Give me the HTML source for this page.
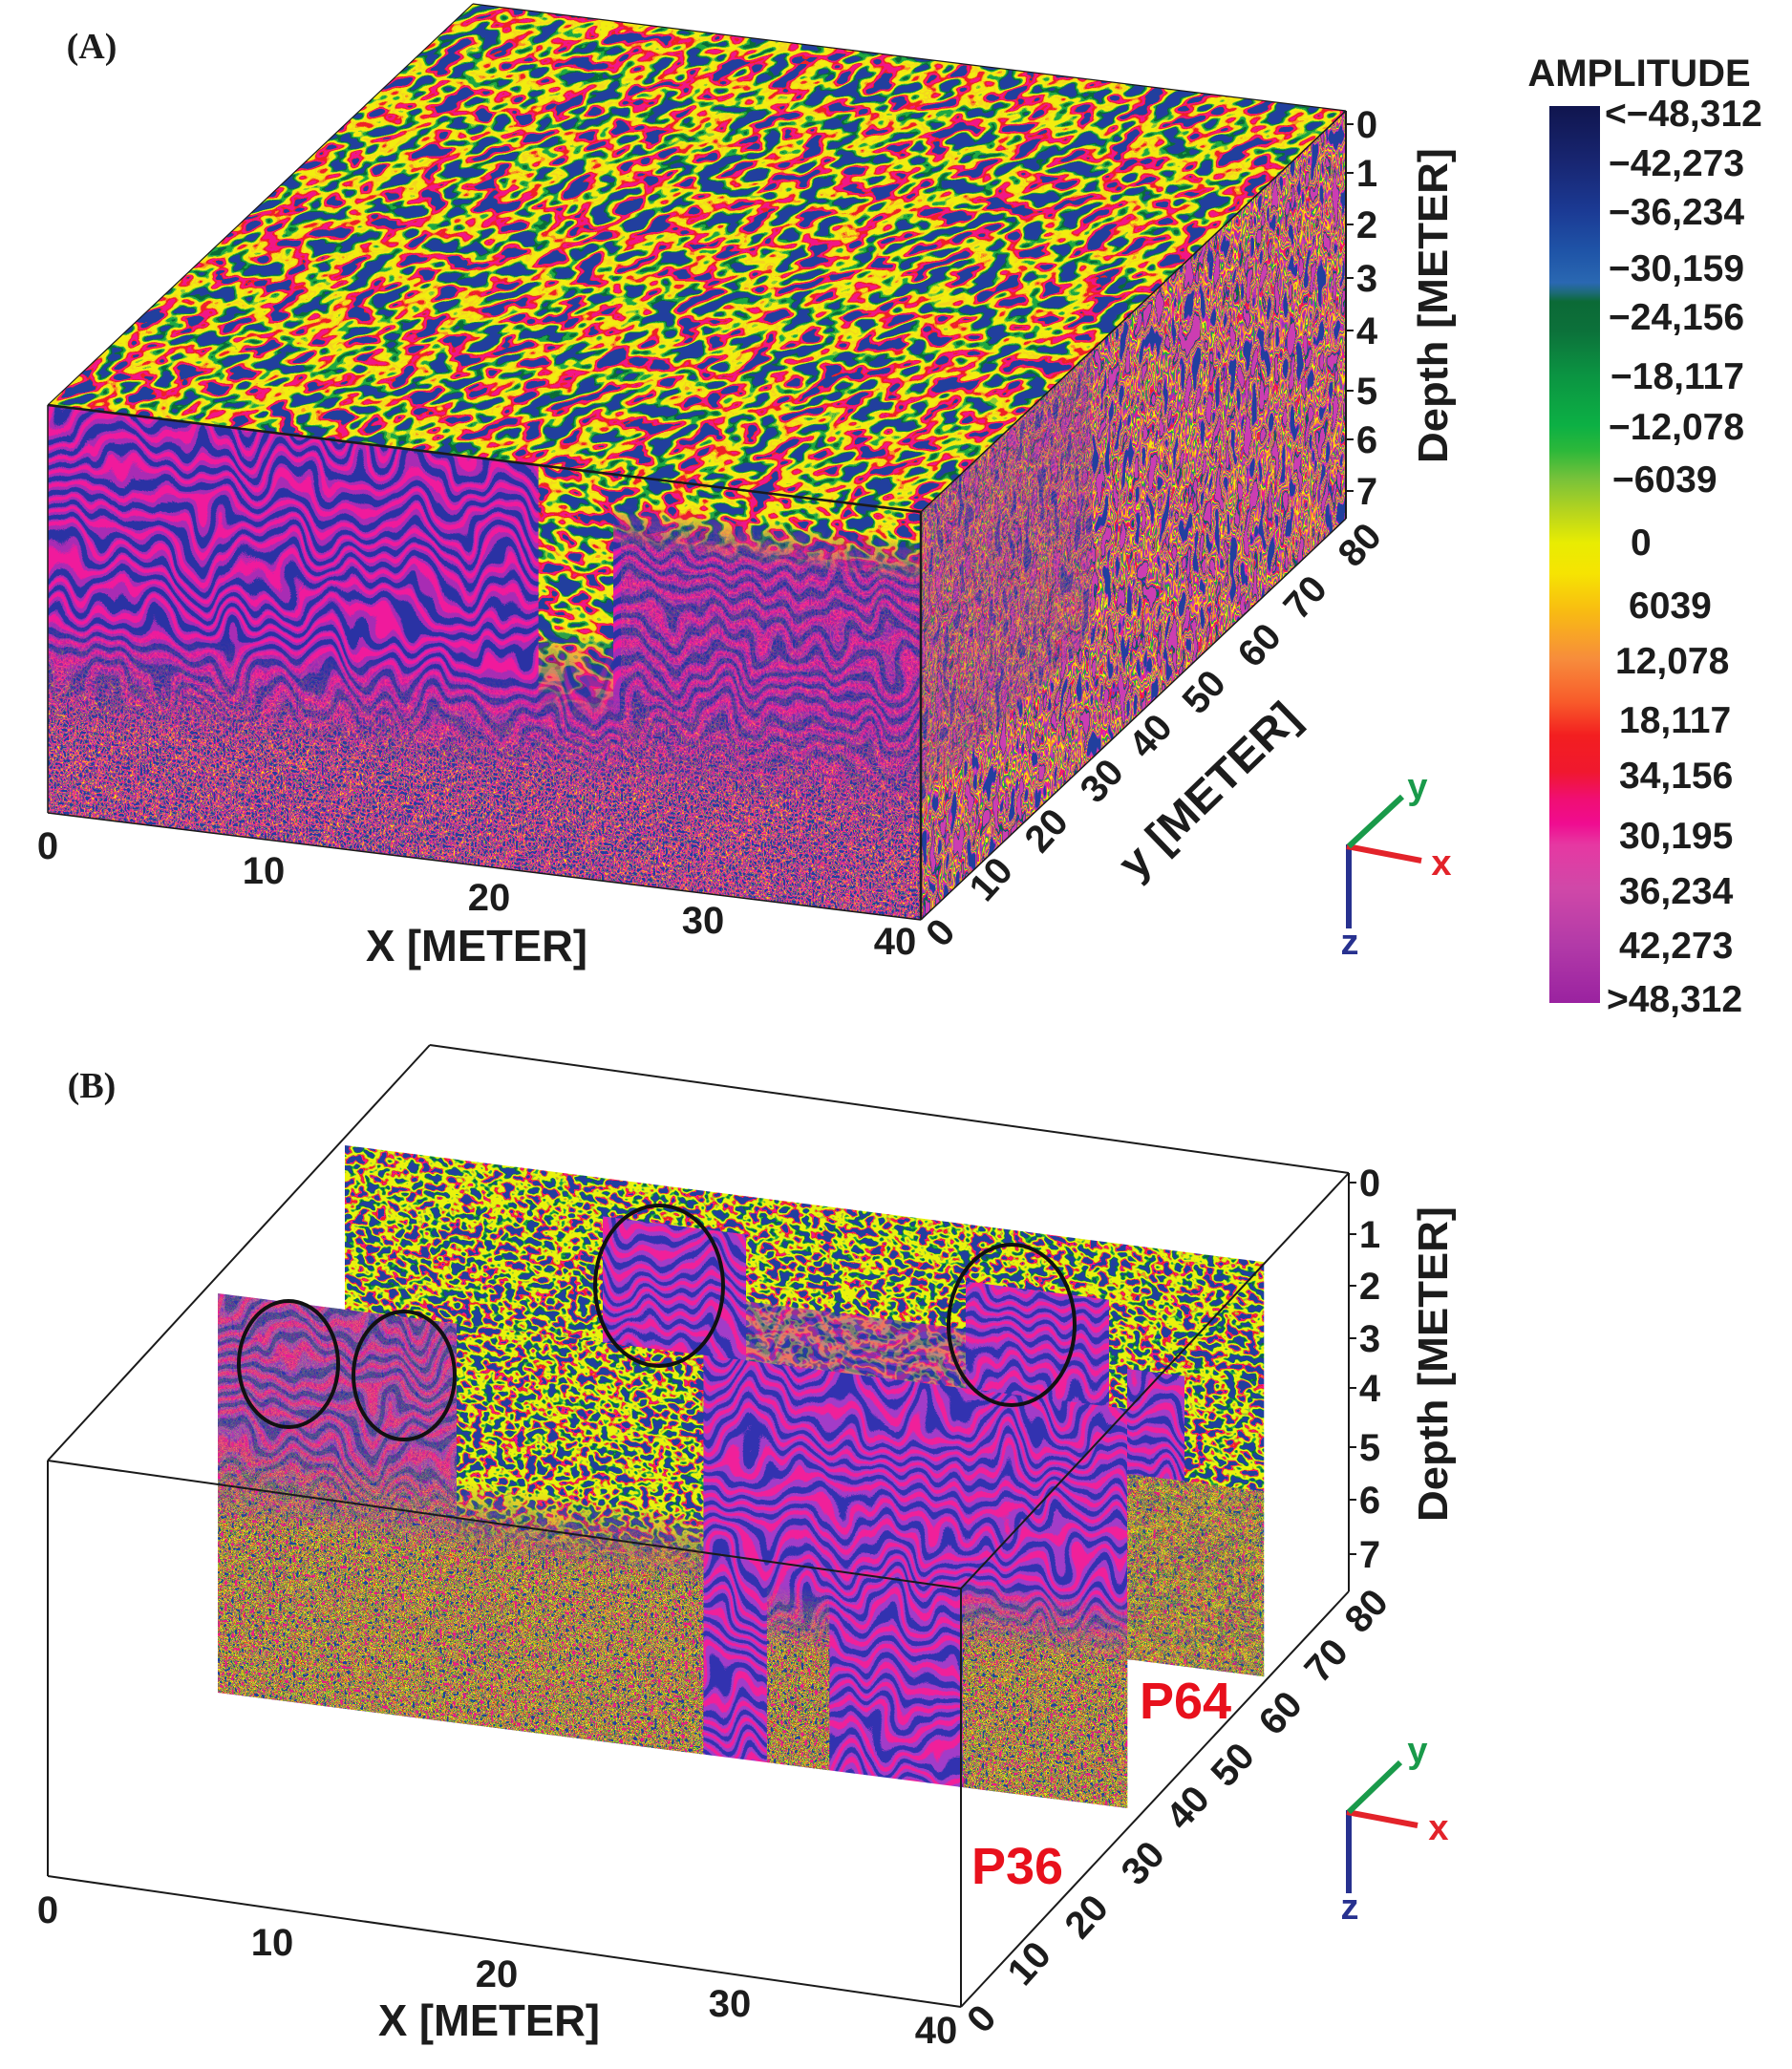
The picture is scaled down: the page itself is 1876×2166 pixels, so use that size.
<!DOCTYPE html>
<html><head><meta charset="utf-8">
<style>
html,body{margin:0;padding:0;background:#fff;}
svg{display:block;}
</style></head><body>
<svg width="1876" height="2166" viewBox="0 0 1876 2166" xmlns="http://www.w3.org/2000/svg" font-family="Liberation Sans, Arial, sans-serif" font-weight="bold">
<defs>
  <!-- yellow-dominant blob noise (top face A) -->
  <filter id="fTopA" x="0" y="0" width="1" height="1" color-interpolation-filters="sRGB">
    <feTurbulence type="fractalNoise" baseFrequency="0.045 0.07" numOctaves="2" seed="3"/>
    <feColorMatrix type="matrix" values="3 0 0 0 -1  3 0 0 0 -1  3 0 0 0 -1  0 0 0 0 1"/>
    <feComponentTransfer>
      <feFuncR type="discrete" tableValues="0.13 0.13 0.04 0.04 0.12 0.12 0.55 0.95 0.95 0.95 0.96 0.95 0.97 0.94 0.94 0.95 0.95 0.95 0.94 0.13"/>
      <feFuncG type="discrete" tableValues="0.25 0.25 0.42 0.42 0.66 0.66 0.80 0.93 0.93 0.93 0.84 0.93 0.58 0.13 0.13 0.09 0.09 0.09 0.13 0.25"/>
      <feFuncB type="discrete" tableValues="0.62 0.62 0.22 0.22 0.26 0.26 0.20 0.06 0.06 0.06 0.12 0.06 0.14 0.15 0.15 0.53 0.53 0.53 0.15 0.62"/>
    </feComponentTransfer>
  </filter>
  <!-- lime-yellow noise (panel B) -->
  <filter id="fTopB" x="0" y="0" width="1" height="1" color-interpolation-filters="sRGB">
    <feTurbulence type="fractalNoise" baseFrequency="0.09 0.11" numOctaves="2" seed="11"/>
    <feColorMatrix type="matrix" values="3 0 0 0 -1  3 0 0 0 -1  3 0 0 0 -1  0 0 0 0 1"/>
    <feComponentTransfer>
      <feFuncR type="discrete" tableValues="0.13 0.04 0.04 0.12 0.12 0.55 0.92 0.92 0.92 0.92 0.92 0.92 0.55 0.97 0.94 0.94 0.95 0.95 0.13 0.13"/>
      <feFuncG type="discrete" tableValues="0.25 0.42 0.42 0.66 0.66 0.80 0.95 0.95 0.95 0.95 0.95 0.95 0.80 0.58 0.13 0.13 0.09 0.09 0.25 0.25"/>
      <feFuncB type="discrete" tableValues="0.62 0.22 0.22 0.26 0.26 0.20 0.05 0.05 0.05 0.05 0.05 0.05 0.20 0.14 0.15 0.15 0.53 0.53 0.62 0.62"/>
    </feComponentTransfer>
  </filter>
  <!-- pink/purple speckle (front A lower) -->
  <filter id="fSpeckA" x="0" y="0" width="1" height="1" color-interpolation-filters="sRGB">
    <feTurbulence type="fractalNoise" baseFrequency="0.3 0.22" numOctaves="1" seed="5"/>
    <feColorMatrix type="matrix" values="3 0 0 0 -1  3 0 0 0 -1  3 0 0 0 -1  0 0 0 0 1"/>
    <feComponentTransfer>
      <feFuncR type="discrete" tableValues="0.13 0.16 0.60 0.80 0.95 0.95 0.95 0.97 0.95 0.80 0.60 0.12 0.95 0.80 0.16 0.13 0.95 0.95 0.60 0.13"/>
      <feFuncG type="discrete" tableValues="0.25 0.20 0.20 0.24 0.09 0.09 0.93 0.58 0.09 0.24 0.20 0.66 0.09 0.24 0.20 0.25 0.09 0.93 0.20 0.25"/>
      <feFuncB type="discrete" tableValues="0.62 0.62 0.72 0.70 0.53 0.53 0.06 0.14 0.53 0.70 0.72 0.26 0.53 0.70 0.62 0.62 0.53 0.06 0.72 0.62"/>
    </feComponentTransfer>
  </filter>
  <!-- olive speckle (panel B lower) -->
  <filter id="fSpeckB" x="0" y="0" width="1" height="1" color-interpolation-filters="sRGB">
    <feTurbulence type="fractalNoise" baseFrequency="0.28 0.22" numOctaves="1" seed="8"/>
    <feColorMatrix type="matrix" values="3 0 0 0 -1  3 0 0 0 -1  3 0 0 0 -1  0 0 0 0 1"/>
    <feComponentTransfer>
      <feFuncR type="discrete" tableValues="0.13 0.12 0.92 0.95 0.92 0.12 0.94 0.92 0.95 0.04 0.92 0.60 0.92 0.12 0.95 0.92 0.13 0.97 0.12 0.95"/>
      <feFuncG type="discrete" tableValues="0.25 0.66 0.95 0.09 0.95 0.66 0.13 0.95 0.09 0.42 0.95 0.20 0.95 0.66 0.09 0.95 0.25 0.58 0.66 0.09"/>
      <feFuncB type="discrete" tableValues="0.62 0.26 0.05 0.53 0.05 0.26 0.15 0.05 0.53 0.22 0.05 0.72 0.05 0.26 0.53 0.05 0.62 0.14 0.26 0.53"/>
    </feComponentTransfer>
  </filter>
  <!-- right face streaks -->
  <filter id="fRightA" x="0" y="0" width="1" height="1" color-interpolation-filters="sRGB">
    <feTurbulence type="fractalNoise" baseFrequency="0.13 0.03" numOctaves="2" seed="21"/>
    <feColorMatrix type="matrix" values="3 0 0 0 -1  3 0 0 0 -1  3 0 0 0 -1  0 0 0 0 1"/>
    <feComponentTransfer>
      <feFuncR type="discrete" tableValues="0.13 0.60 0.80 0.95 0.95 0.12 0.60 0.95 0.95 0.97 0.80 0.60 0.12 0.95 0.95 0.94 0.60 0.13 0.04 0.80"/>
      <feFuncG type="discrete" tableValues="0.25 0.20 0.24 0.09 0.93 0.66 0.20 0.09 0.93 0.58 0.24 0.20 0.66 0.93 0.09 0.13 0.20 0.25 0.42 0.24"/>
      <feFuncB type="discrete" tableValues="0.62 0.72 0.70 0.53 0.06 0.26 0.72 0.53 0.06 0.14 0.70 0.72 0.26 0.06 0.53 0.15 0.72 0.62 0.22 0.70"/>
    </feComponentTransfer>
  </filter>
  <!-- stripe warp -->
  <filter id="fW" x="0" y="0" width="1" height="1" color-interpolation-filters="sRGB">
    <feTurbulence type="fractalNoise" baseFrequency="0.022 0.01" numOctaves="2" seed="9" result="n"/>
    <feDisplacementMap in="SourceGraphic" in2="n" scale="120" xChannelSelector="B" yChannelSelector="R"/>
  </filter>
  <pattern id="pS" width="60" height="22" patternUnits="userSpaceOnUse">
    <rect width="60" height="22" fill="#a82cb4"/>
    <rect y="0" width="60" height="8" fill="#2a32a4"/>
    <rect y="11" width="60" height="6" fill="#f01a9c"/>
  </pattern>
  <pattern id="pS2" width="60" height="22" patternUnits="userSpaceOnUse">
    <rect width="60" height="22" fill="#a23cc8"/>
    <rect y="0" width="60" height="7" fill="#3232b0"/>
    <rect y="11" width="60" height="6" fill="#f0209a"/>
  </pattern>

  <!-- colorbar -->
  <linearGradient id="cb" x1="0" y1="0" x2="0" y2="1">
    <stop offset="0" stop-color="#10154e"/>
    <stop offset="0.063" stop-color="#182672"/>
    <stop offset="0.117" stop-color="#1b3a94"/>
    <stop offset="0.164" stop-color="#1f55a8"/>
    <stop offset="0.197" stop-color="#2a68b2"/>
    <stop offset="0.208" stop-color="#1d6a78"/>
    <stop offset="0.218" stop-color="#0b6a36"/>
    <stop offset="0.249" stop-color="#0c703a"/>
    <stop offset="0.300" stop-color="#0b9442"/>
    <stop offset="0.356" stop-color="#0cb044"/>
    <stop offset="0.384" stop-color="#2cb83a"/>
    <stop offset="0.416" stop-color="#78c23a"/>
    <stop offset="0.452" stop-color="#b6d41e"/>
    <stop offset="0.487" stop-color="#e8ec02"/>
    <stop offset="0.521" stop-color="#f6e402"/>
    <stop offset="0.563" stop-color="#f8bc12"/>
    <stop offset="0.617" stop-color="#f78c3c"/>
    <stop offset="0.665" stop-color="#f85a2a"/>
    <stop offset="0.702" stop-color="#f31e20"/>
    <stop offset="0.742" stop-color="#f0182e"/>
    <stop offset="0.772" stop-color="#f00e72"/>
    <stop offset="0.800" stop-color="#f00c90"/>
    <stop offset="0.824" stop-color="#e638a2"/>
    <stop offset="0.872" stop-color="#d048a8"/>
    <stop offset="0.936" stop-color="#b23aa8"/>
    <stop offset="1" stop-color="#9a22a0"/>
  </linearGradient>

  <!-- masks (local coords) -->
  <linearGradient id="gA1" gradientUnits="userSpaceOnUse" x1="0" y1="0" x2="0" y2="428">
    <stop offset="0" stop-color="#fff"/><stop offset="0.52" stop-color="#fff"/><stop offset="0.78" stop-color="#000"/>
  </linearGradient>
  <mask id="mA1" maskUnits="userSpaceOnUse" x="-100" y="-100" width="1200" height="700"><rect x="0" y="0" width="914" height="428" fill="url(#gA1)"/></mask>
  <linearGradient id="gA2" gradientUnits="userSpaceOnUse" x1="0" y1="0" x2="0" y2="260">
    <stop offset="0" stop-color="#fff"/><stop offset="0.65" stop-color="#fff"/><stop offset="1" stop-color="#000"/>
  </linearGradient>
  <mask id="mA2" maskUnits="userSpaceOnUse" x="-100" y="-100" width="1200" height="700"><rect x="0" y="0" width="914" height="428" fill="url(#gA2)"/></mask>
  <linearGradient id="gA3" gradientUnits="userSpaceOnUse" x1="0" y1="0" x2="0" y2="75">
    <stop offset="0" stop-color="#fff"/><stop offset="0.4" stop-color="#fff"/><stop offset="1" stop-color="#000"/>
  </linearGradient>
  <mask id="mA3" maskUnits="userSpaceOnUse" x="-100" y="-100" width="1200" height="700"><rect x="0" y="0" width="914" height="428" fill="url(#gA3)"/></mask>

  <clipPath id="cA"><rect x="0" y="0" width="914" height="427"/></clipPath>
  <clipPath id="cP36"><rect x="0" y="0" width="952" height="418"/></clipPath>
  <clipPath id="cP64">
    <rect x="270" y="40" width="150" height="394"/>
    <rect x="420" y="110" width="230" height="324"/>
    <rect x="650" y="60" width="150" height="374"/>
    <rect x="819" y="130" width="60" height="110"/>
  </clipPath>

  <!-- P36 masks -->
  <linearGradient id="gB1" gradientUnits="userSpaceOnUse" x1="0" y1="150" x2="0" y2="240">
    <stop offset="0" stop-color="#000"/><stop offset="1" stop-color="#fff"/>
  </linearGradient>
  <mask id="mB1" maskUnits="userSpaceOnUse" x="-100" y="-100" width="1200" height="700"><rect x="0" y="0" width="1000" height="500" fill="url(#gB1)"/></mask>
  <linearGradient id="gB2" gradientUnits="userSpaceOnUse" x1="0" y1="230" x2="0" y2="300">
    <stop offset="0" stop-color="#000"/><stop offset="1" stop-color="#fff"/>
  </linearGradient>
  <mask id="mB2" maskUnits="userSpaceOnUse" x="-100" y="-100" width="1200" height="700"><rect x="0" y="0" width="1000" height="500" fill="url(#gB2)"/></mask>
  <linearGradient id="gB3" gradientUnits="userSpaceOnUse" x1="0" y1="0" x2="0" y2="235">
    <stop offset="0" stop-color="#fff"/><stop offset="0.7" stop-color="#fff"/><stop offset="1" stop-color="#000"/>
  </linearGradient>
  <mask id="mB3" maskUnits="userSpaceOnUse" x="-100" y="-100" width="1200" height="700"><rect x="0" y="0" width="1000" height="500" fill="url(#gB3)"/></mask>
  <linearGradient id="gB4" gradientUnits="userSpaceOnUse" x1="0" y1="200" x2="0" y2="270">
    <stop offset="0" stop-color="#000"/><stop offset="1" stop-color="#fff"/>
  </linearGradient>
  <mask id="mB4" maskUnits="userSpaceOnUse" x="-100" y="-100" width="1200" height="700"><rect x="0" y="0" width="1000" height="500" fill="url(#gB4)"/></mask>
</defs>

<rect width="1876" height="2166" fill="#fff"/>

<!-- ================= PANEL A ================= -->
<text x="96" y="61" font-family="Liberation Serif, serif" font-size="38" text-anchor="middle" fill="#1c1c1c">(A)</text>

<!-- top face -->
<g transform="matrix(1 0.1225 1.0595 -1 50 424)">
  <rect width="914" height="420" fill="#000" filter="url(#fTopA)"/>
</g>
<!-- right face -->
<g transform="matrix(1 -0.9438 0 1 964 536)">
  <rect width="445" height="427" fill="#000" filter="url(#fRightA)"/>
  <rect x="0" y="0" width="180" height="300" fill="#000" filter="url(#fSpeckA)" opacity="0.45"/>
</g>
<!-- front face -->
<g transform="matrix(1 0.1225 0 1 50 424)">
  <rect width="914" height="427" fill="#000" filter="url(#fSpeckA)"/>
  <g clip-path="url(#cA)" mask="url(#mA1)">
    <rect x="-70" y="-70" width="1054" height="500" fill="url(#pS)" filter="url(#fW)"/>
  </g>
  <rect x="600" y="40" width="314" height="300" fill="#000" filter="url(#fSpeckA)" opacity="0.35"/>
  <rect x="514" y="0" width="78" height="260" fill="#000" filter="url(#fTopA)" mask="url(#mA2)"/>
  <rect x="520" y="0" width="394" height="75" fill="#000" filter="url(#fTopA)" mask="url(#mA3)"/>
</g>

<!-- box edges A -->
<g stroke="#1a1a1a" fill="none">
  <line x1="50" y1="424" x2="964" y2="536" stroke-width="2.5"/>
  <line x1="964" y1="536" x2="964" y2="963" stroke-width="2.5"/>
  <line x1="964" y1="536" x2="1409" y2="116" stroke-width="1.5"/>
  <line x1="1409" y1="116" x2="1409" y2="543" stroke-width="2"/>
  <line x1="50" y1="424" x2="50" y2="851" stroke-width="1.5"/>
  <line x1="50" y1="851" x2="964" y2="963" stroke-width="1.5"/>
  <line x1="964" y1="963" x2="1409" y2="543" stroke-width="1.5"/>
  <line x1="50" y1="424" x2="495" y2="4" stroke-width="1.2"/>
  <line x1="495" y1="4" x2="1409" y2="116" stroke-width="1.2"/>
  <!-- depth ticks -->
  <path d="M1409 130h8M1409 181h8M1409 235h8M1409 291h8M1409 346h8M1409 409h8M1409 460h8M1409 514h8" stroke-width="2"/>
</g>

<!-- depth labels A -->
<g font-size="40" text-anchor="middle" fill="#1c1c1c">
  <text x="1431" y="144">0</text>
  <text x="1431" y="195">1</text>
  <text x="1431" y="249">2</text>
  <text x="1431" y="305">3</text>
  <text x="1431" y="360">4</text>
  <text x="1431" y="423">5</text>
  <text x="1431" y="474">6</text>
  <text x="1431" y="528">7</text>
</g>
<text x="1515" y="320" transform="rotate(-90 1515 320)" font-size="44" text-anchor="middle" textLength="330" lengthAdjust="spacingAndGlyphs" fill="#1c1c1c">Depth [METER]</text>

<!-- x labels A -->
<g font-size="40" text-anchor="middle" fill="#1c1c1c">
  <text x="50" y="899">0</text>
  <text x="276" y="925">10</text>
  <text x="512" y="953">20</text>
  <text x="736" y="977">30</text>
  <text x="937" y="999">40</text>
</g>
<text x="499" y="1006" font-size="46" text-anchor="middle" textLength="232" lengthAdjust="spacingAndGlyphs" fill="#1c1c1c">X [METER]</text>

<!-- y labels A -->
<g font-size="40" text-anchor="middle" fill="#1c1c1c">
  <text transform="translate(984 976) rotate(-48)" y="14">0</text>
  <text transform="translate(1037 920) rotate(-48)" y="14">10</text>
  <text transform="translate(1095 869) rotate(-48)" y="14">20</text>
  <text transform="translate(1153 817) rotate(-48)" y="14">30</text>
  <text transform="translate(1204 770) rotate(-48)" y="14">40</text>
  <text transform="translate(1260 724) rotate(-48)" y="14">50</text>
  <text transform="translate(1318 675) rotate(-48)" y="14">60</text>
  <text transform="translate(1366 625) rotate(-48)" y="14">70</text>
  <text transform="translate(1423 570) rotate(-48)" y="14">80</text>
</g>
<text transform="translate(1266 828) rotate(-44)" y="15" font-size="46" text-anchor="middle" textLength="242" lengthAdjust="spacingAndGlyphs" fill="#1c1c1c">y [METER]</text>

<!-- gizmo A -->
<g stroke-width="6" stroke-linecap="butt">
  <line x1="1412" y1="884" x2="1412" y2="972" stroke="#27318f"/>
  <line x1="1410" y1="886" x2="1488" y2="901" stroke="#e3232a"/>
  <line x1="1412" y1="886" x2="1468" y2="834" stroke="#199a4a"/>
</g>
<g font-size="38" text-anchor="middle">
  <text x="1413" y="999" fill="#27318f">z</text>
  <text x="1509" y="916" fill="#e3232a">x</text>
  <text x="1484" y="836" fill="#199a4a">y</text>
</g>

<!-- colorbar -->
<text x="1716" y="90" font-size="40" text-anchor="middle" fill="#1c1c1c">AMPLITUDE</text>
<rect x="1622" y="111" width="53" height="939" fill="url(#cb)"/>
<g font-size="39" fill="#1c1c1c">
  <text x="1680" y="132">&lt;−48,312</text>
  <text x="1684" y="184">−42,273</text>
  <text x="1684" y="235">−36,234</text>
  <text x="1684" y="294">−30,159</text>
  <text x="1684" y="345">−24,156</text>
  <text x="1686" y="407">−18,117</text>
  <text x="1684" y="460">−12,078</text>
  <text x="1688" y="515">−6039</text>
  <text x="1707" y="581">0</text>
  <text x="1705" y="647">6039</text>
  <text x="1691" y="705">12,078</text>
  <text x="1695" y="767">18,117</text>
  <text x="1695" y="825">34,156</text>
  <text x="1695" y="888">30,195</text>
  <text x="1695" y="946">36,234</text>
  <text x="1695" y="1003">42,273</text>
  <text x="1682" y="1059">&gt;48,312</text>
</g>

<!-- ================= PANEL B ================= -->
<text x="96" y="1149" font-family="Liberation Serif, serif" font-size="38" text-anchor="middle" fill="#1c1c1c">(B)</text>

<!-- P64 slice -->
<g transform="matrix(1 0.127 0 1 361 1199)">
  <rect width="962" height="434" fill="#000" filter="url(#fTopB)"/>
  <g clip-path="url(#cP64)">
    <rect x="200" y="-70" width="750" height="570" fill="url(#pS2)" filter="url(#fW)"/>
  </g>
  <rect x="420" y="110" width="230" height="324" fill="#000" filter="url(#fTopB)" opacity="0.4"/>
  <rect x="819" y="240" width="143" height="194" fill="#000" filter="url(#fSpeckB)" opacity="0.8"/>
</g>

<!-- P36 slice -->
<g transform="matrix(1 0.127 0 1 228 1354)">
  <g clip-path="url(#cP36)">
    <rect x="-70" y="-70" width="1092" height="560" fill="url(#pS2)" filter="url(#fW)"/>
  </g>
  <rect x="0" y="0" width="250" height="210" fill="#000" filter="url(#fSpeckB)" opacity="0.28"/>
  <rect x="0" y="150" width="508" height="268" fill="#000" filter="url(#fSpeckB)" mask="url(#mB1)"/>
  <rect x="575" y="230" width="65" height="188" fill="#000" filter="url(#fSpeckB)" mask="url(#mB2)"/>
  <rect x="780" y="200" width="172" height="218" fill="#000" filter="url(#fSpeckB)" mask="url(#mB4)"/>
  <rect x="250" y="0" width="258" height="235" fill="#000" filter="url(#fTopB)" mask="url(#mB3)"/>
</g>

<!-- ellipses -->
<g fill="none" stroke="#111" stroke-width="4">
  <ellipse cx="302" cy="1428" rx="52" ry="66"/>
  <ellipse cx="423" cy="1440" rx="53" ry="67"/>
  <ellipse cx="690" cy="1346" rx="67" ry="84"/>
  <ellipse cx="1059" cy="1387" rx="66" ry="84"/>
</g>

<!-- box B -->
<g stroke="#1a1a1a" fill="none" stroke-width="2">
  <line x1="50" y1="1529" x2="1006" y2="1663"/>
  <line x1="1006" y1="1663" x2="1006" y2="2101"/>
  <line x1="1006" y1="2101" x2="50" y2="1964"/>
  <line x1="50" y1="1964" x2="50" y2="1529"/>
  <line x1="50" y1="1529" x2="450" y2="1094"/>
  <line x1="450" y1="1094" x2="1412" y2="1228"/>
  <line x1="1412" y1="1228" x2="1006" y2="1663"/>
  <line x1="1412" y1="1228" x2="1412" y2="1666"/>
  <line x1="1412" y1="1666" x2="1006" y2="2101"/>
  <path d="M1412 1238h8M1412 1292h8M1412 1346h8M1412 1401h8M1412 1453h8M1412 1515h8M1412 1570h8M1412 1627h8"/>
</g>

<!-- depth labels B -->
<g font-size="40" text-anchor="middle" fill="#1c1c1c">
  <text x="1434" y="1252">0</text>
  <text x="1434" y="1306">1</text>
  <text x="1434" y="1360">2</text>
  <text x="1434" y="1415">3</text>
  <text x="1434" y="1467">4</text>
  <text x="1434" y="1529">5</text>
  <text x="1434" y="1584">6</text>
  <text x="1434" y="1641">7</text>
</g>
<text x="1515" y="1428" transform="rotate(-90 1515 1428)" font-size="44" text-anchor="middle" textLength="330" lengthAdjust="spacingAndGlyphs" fill="#1c1c1c">Depth [METER]</text>

<!-- x labels B -->
<g font-size="40" text-anchor="middle" fill="#1c1c1c">
  <text x="50" y="2013">0</text>
  <text x="285" y="2047">10</text>
  <text x="520" y="2080">20</text>
  <text x="764" y="2111">30</text>
  <text x="980" y="2139">40</text>
</g>
<text x="512" y="2131" font-size="46" text-anchor="middle" textLength="232" lengthAdjust="spacingAndGlyphs" fill="#1c1c1c">X [METER]</text>

<!-- y labels B -->
<g font-size="40" text-anchor="middle" fill="#1c1c1c">
  <text transform="translate(1027 2113) rotate(-48)" y="14">0</text>
  <text transform="translate(1077 2055) rotate(-48)" y="14">10</text>
  <text transform="translate(1137 2006) rotate(-48)" y="14">20</text>
  <text transform="translate(1196 1950) rotate(-48)" y="14">30</text>
  <text transform="translate(1243 1892) rotate(-48)" y="14">40</text>
  <text transform="translate(1290 1847) rotate(-48)" y="14">50</text>
  <text transform="translate(1340 1793) rotate(-48)" y="14">60</text>
  <text transform="translate(1388 1738) rotate(-48)" y="14">70</text>
  <text transform="translate(1430 1686) rotate(-48)" y="14">80</text>
</g>

<!-- slice labels -->
<g font-size="54" text-anchor="middle" fill="#e8101c">
  <text x="1241" y="1799">P64</text>
  <text x="1065" y="1972">P36</text>
</g>

<!-- gizmo B -->
<g stroke-width="6">
  <line x1="1412" y1="1895" x2="1412" y2="1982" stroke="#27318f"/>
  <line x1="1410" y1="1897" x2="1484" y2="1911" stroke="#e3232a"/>
  <line x1="1412" y1="1897" x2="1466" y2="1845" stroke="#199a4a"/>
</g>
<g font-size="38" text-anchor="middle">
  <text x="1413" y="2009" fill="#27318f">z</text>
  <text x="1506" y="1926" fill="#e3232a">x</text>
  <text x="1484" y="1845" fill="#199a4a">y</text>
</g>
</svg>
</body></html>
